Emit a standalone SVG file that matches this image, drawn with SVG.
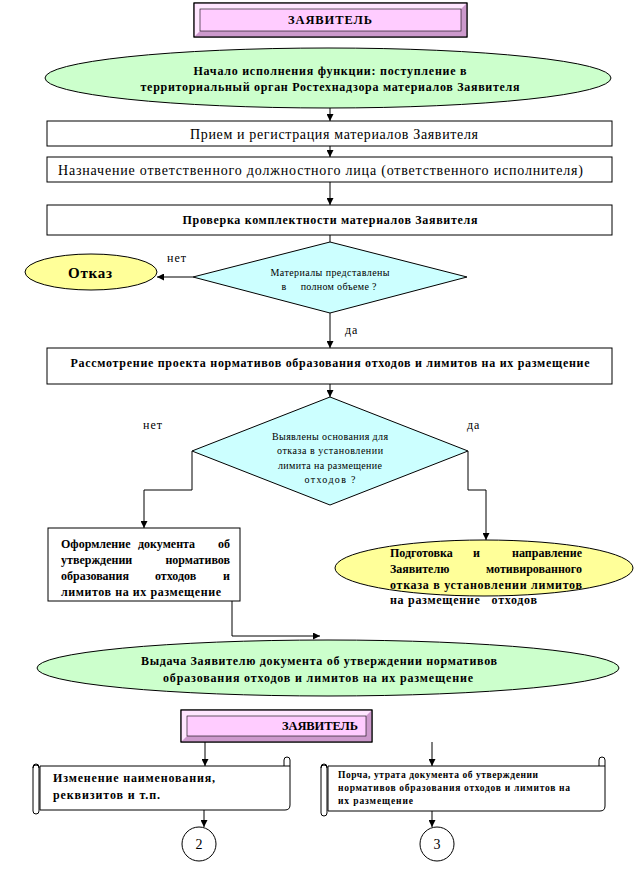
<svg xmlns="http://www.w3.org/2000/svg" width="638" height="878" viewBox="0 0 638 878">
<defs>
<marker id="ah" viewBox="0 0 10 10" refX="10" refY="5" markerWidth="7" markerHeight="7" markerUnits="userSpaceOnUse" orient="auto">
<path d="M0,0 L10,5 L0,10 Z" fill="#000"/>
</marker>
</defs>
<style>
text{font-family:"Liberation Serif","Times New Roman",serif;fill:#000}
.b{font-weight:bold}
.box{fill:#fff;stroke:#000;stroke-width:1}
.green{fill:#ccffcc;stroke:#000;stroke-width:1}
.yellow{fill:#ffff99;stroke:#000;stroke-width:1}
.cyan{fill:#ccffff;stroke:#000;stroke-width:1}
.pink{fill:#ffccff;stroke:#000;stroke-width:1}
.bvl{fill:#ffe6ff;stroke:none}
.bvd{fill:#cc99cc;stroke:none}
.ln{fill:none;stroke:#000;stroke-width:1}
.arr{fill:none;stroke:#000;stroke-width:1;marker-end:url(#ah)}
.scr{fill:#fff;stroke:#000;stroke-width:1}
</style>

<g id="connectors">
<path class="arr" d="M330,108 V121"/>
<path class="arr" d="M330,146 V157"/>
<path class="arr" d="M330,182 V205"/>
<path class="ln" d="M330,235 V242"/>
<path class="arr" d="M193,277 H157"/>
<path class="arr" d="M330,313 V348"/>
<path class="arr" d="M330,384 V397"/>
<path class="arr" d="M192,451 V490 H144 V528"/>
<path class="arr" d="M468,451 V490 H486 V540"/>
<path class="arr" d="M232,601 V636 H320"/>
<path class="arr" d="M205,742 V766"/>
<path class="arr" d="M432,742 V766"/>
<path class="arr" d="M204,800 V827"/>
<path class="arr" d="M432,805 V827"/>
<text x="167" y="262" font-size="12" letter-spacing="1">нет</text>
<text x="345" y="334" font-size="12" letter-spacing="1">да</text>
<text x="143" y="429" font-size="12" letter-spacing="1">нет</text>
<text x="467" y="429" font-size="12" letter-spacing="1">да</text>
</g>

<g id="applicant-top">
<rect class="pink" x="194" y="3" width="273" height="34"/>
<path class="bvl" d="M194.5,3.5 H466.5 L461,9 H200 V31 L194.5,36.5 Z"/>
<path class="bvd" d="M466.5,3.5 V36.5 H194.5 L200,31 H461 V9 Z"/>
<rect x="200" y="9" width="261" height="22" fill="#ffccff" stroke="#000" stroke-width="0.6"/>
<rect class="ln" x="194" y="3" width="273" height="34"/>
<text class="b" x="330" y="24" font-size="12.5" text-anchor="middle" textLength="84">ЗАЯВИТЕЛЬ</text>
</g>

<g id="start">
<ellipse class="green" cx="328" cy="78" rx="283" ry="30"/>
<text class="b" x="330" y="75" font-size="12" text-anchor="middle" textLength="273">Начало исполнения функции: поступление в</text>
<text class="b" x="330" y="91" font-size="12" text-anchor="middle" textLength="379">территориальный орган Ростехнадзора материалов Заявителя</text>
</g>

<g id="reception">
<rect class="box" x="47" y="121" width="565" height="25"/>
<text x="334" y="139" font-size="14" text-anchor="middle" textLength="288">Прием и регистрация материалов Заявителя</text>
</g>

<g id="assignment">
<rect class="box" x="47" y="157" width="565" height="25"/>
<text x="58" y="175" font-size="14" textLength="525">Назначение ответственного должностного лица (ответственного исполнителя)</text>
</g>

<g id="check">
<rect class="box" x="47" y="205" width="565" height="30"/>
<text class="b" x="330" y="224" font-size="12" text-anchor="middle" textLength="295">Проверка комплектности материалов Заявителя</text>
</g>

<g id="decision1">
<polygon class="cyan" points="330,242 467,277 330,313 193,277"/>
<text x="330" y="276" font-size="10" text-anchor="middle" textLength="119">Материалы представлены</text>
<text x="329" y="290" font-size="10" text-anchor="middle" xml:space="preserve" textLength="95">в     полном объеме ?</text>
</g>

<g id="refusal">
<ellipse class="yellow" cx="91" cy="272" rx="66" ry="18"/>
<text class="b" x="90" y="278" font-size="15" text-anchor="middle" textLength="44">Отказ</text>
</g>

<g id="review">
<rect class="box" x="47" y="348" width="565" height="36"/>
<text class="b" x="330" y="367" font-size="12" text-anchor="middle" textLength="519">Рассмотрение проекта нормативов образования отходов и лимитов на их размещение</text>
</g>

<g id="decision2">
<polygon class="cyan" points="330,397 468,451 330,505 192,451"/>
<text x="330" y="440" font-size="10" text-anchor="middle" textLength="116">Выявлены основания для</text>
<text x="330" y="454" font-size="10" text-anchor="middle" textLength="106">отказа в установлении</text>
<text x="330" y="469" font-size="10" text-anchor="middle" textLength="104">лимита на размещение</text>
<text x="330" y="483" font-size="10" text-anchor="middle" textLength="51">отходов ?</text>
</g>

<g id="approval-doc">
<rect class="box" x="48" y="528" width="192" height="73"/>
<g class="b" font-size="12">
<text x="61" y="548">Оформление</text>
<text x="138" y="548">документа</text>
<text x="230" y="548" text-anchor="end">об</text>
<text x="61" y="564">утверждении</text>
<text x="230" y="564" text-anchor="end">нормативов</text>
<text x="61" y="580">образования</text>
<text x="155" y="580">отходов</text>
<text x="230" y="580" text-anchor="end">и</text>
<text x="61" y="596" textLength="160">лимитов на их размещение</text>
</g>
</g>

<g id="motivated-refusal">
<ellipse class="yellow" cx="484" cy="568" rx="149" ry="28"/>
<g class="b" font-size="12">
<text x="390" y="557">Подготовка</text>
<text x="473" y="557">и</text>
<text x="582" y="557" text-anchor="end">направление</text>
<text x="390" y="573">Заявителю</text>
<text x="582" y="573" text-anchor="end">мотивированного</text>
<text x="390" y="589" textLength="192">отказа в установлении лимитов</text>
<text x="390" y="604" xml:space="preserve" textLength="147">на размещение   отходов</text>
</g>
</g>

<g id="issue">
<ellipse class="green" cx="328" cy="668" rx="291" ry="28"/>
<text class="b" x="319" y="665" font-size="12" text-anchor="middle" textLength="356">Выдача Заявителю документа об утверждении нормативов</text>
<text class="b" x="318" y="682" font-size="12" text-anchor="middle" textLength="310">образования отходов и лимитов на их размещение</text>
</g>

<g id="applicant-bottom">
<rect class="pink" x="181" y="710" width="191" height="32"/>
<path class="bvl" d="M181.5,710.5 H371.5 L366,716 H187 V736 L181.5,741.5 Z"/>
<path class="bvd" d="M371.5,710.5 V741.5 H181.5 L187,736 H366 V716 Z"/>
<rect x="187" y="716" width="179" height="20" fill="#ffccff" stroke="#000" stroke-width="0.6"/>
<rect class="ln" x="181" y="710" width="191" height="32"/>
<text class="b" x="320" y="730" font-size="12.5" text-anchor="middle" textLength="76">ЗАЯВИТЕЛЬ</text>
</g>

<g id="change">
<path class="scr" d="M40,766 H284 V760 A3,3 0 0 1 290,760 V805 Q290,810 285,810 H40 Z"/>
<path class="ln" d="M284,766 H290"/>
<rect class="scr" x="33" y="764" width="6" height="50" rx="3"/>
<path class="ln" d="M33,768 A3,3 0 0 1 39,768"/>
<text class="b" x="53" y="782" font-size="12" textLength="162">Изменение наименования,</text>
<text class="b" x="53" y="799" font-size="12" textLength="107">реквизитов и т.п.</text>
</g>

<g id="damage">
<path class="scr" d="M328,766 H599 V760 A3,3 0 0 1 605,760 V806 Q605,811 600,811 H328 Z"/>
<path class="ln" d="M599,766 H605"/>
<rect class="scr" x="321" y="764" width="6" height="52" rx="3"/>
<path class="ln" d="M321,768 A3,3 0 0 1 327,768"/>
<text class="b" x="338" y="778" font-size="9.5" textLength="200">Порча, утрата документа об утверждении</text>
<text class="b" x="338" y="791" font-size="9.5" textLength="232">нормативов образования отходов и лимитов на</text>
<text class="b" x="338" y="804" font-size="9.5" textLength="75">их размещение</text>
</g>

<g id="ref2">
<circle cx="199" cy="844" r="17" fill="#fff" stroke="#000"/>
<text x="199" y="849" font-size="14" text-anchor="middle">2</text>
</g>

<g id="ref3">
<circle cx="437" cy="844" r="17" fill="#fff" stroke="#000"/>
<text x="437" y="849" font-size="14" text-anchor="middle">3</text>
</g>
</svg>
